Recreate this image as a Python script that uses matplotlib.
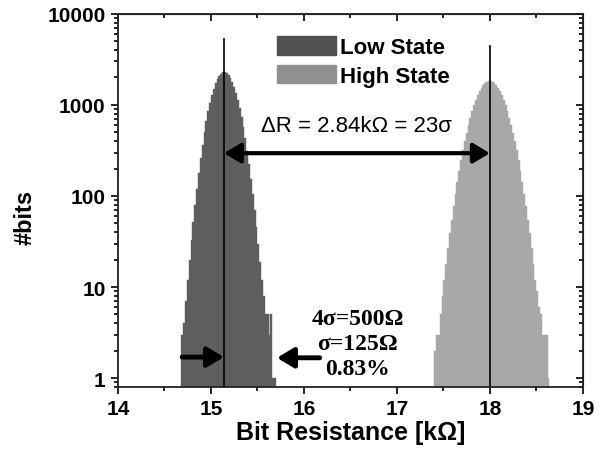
import numpy as np
import matplotlib
matplotlib.use("Agg")
import matplotlib.pyplot as plt
from matplotlib.patches import Patch
from matplotlib import ticker as tick

plt.rcParams['font.family'] = ['Liberation Sans', 'DejaVu Sans']

# histograma estado bajo (bins de 0.02 kOhm)
low_start = 14.68
bin_w = 0.02
low_counts = [3, 4, 7, 12, 20, 33, 52, 80, 120, 180, 260, 365, 500, 660, 850,
              1050, 1270, 1500, 1720, 1920, 2090, 2210, 2290, 2300, 2250, 2140,
              1990, 1800, 1580, 1360, 1140, 930, 740, 570, 430, 315, 225, 155,
              105, 70, 46, 30, 19, 12, 8, 5, 5, 3, 5, 1, 1]

# histograma estado alto
high_start = 17.40
high_counts = [2, 3, 3, 5, 8, 12, 18, 27, 39, 55, 77, 105, 142, 189, 246, 316,
               399, 496, 605, 727, 859, 998, 1140, 1280, 1415, 1538, 1643, 1728,
               1786, 1818, 1818, 1786, 1728, 1643, 1538, 1415, 1280, 1140, 998,
               859, 727, 605, 496, 399, 316, 246, 189, 142, 105, 77, 55, 39, 27,
               18, 12, 9, 6, 5, 3, 3, 3, 1]

low_mean = 15.14
high_mean = 18.0
low_line_top = 5300
high_line_top = 4400
dR_y = 295
xticks = [14, 15, 16, 17, 18, 19]
yticks = [1, 10, 100, 1000, 10000]

low_col = '#5e5e5e'
high_col = '#a8a8a8'

fig = plt.figure(figsize=(5.99, 4.64), dpi=100)
ax = fig.add_axes([0.197, 0.164, 0.776, 0.804])

low_edges = low_start + bin_w * np.arange(len(low_counts) + 1)
high_edges = high_start + bin_w * np.arange(len(high_counts) + 1)
ax.stairs(low_counts, low_edges, fill=True, baseline=0.1, facecolor=low_col,
          edgecolor=low_col, linewidth=0.3)
ax.stairs(high_counts, high_edges, fill=True, baseline=0.1, facecolor=high_col,
          edgecolor=high_col, linewidth=0.3)

ax.set_yscale('log')
ax.set_xlim(14, 19)
ax.set_ylim(0.8, 10000)

# lineas de la media
ax.plot([low_mean, low_mean], [0.8, low_line_top], color='k', lw=1.2)
ax.plot([high_mean, high_mean], [0.8, high_line_top], color='k', lw=1.2)

# flecha delta R
ax.annotate('', xy=(high_mean, dR_y), xytext=(low_mean, dR_y),
            arrowprops=dict(arrowstyle='<|-|>,head_length=0.5,head_width=0.3',
                            lw=3, color='k', mutation_scale=20, shrinkA=0, shrinkB=0))
ax.text(16.57, 590, 'ΔR = 2.84kΩ = 23σ', fontsize=16, ha='center', va='center')

# flechas pequenas
ax.annotate('', xy=(low_mean, 1.7), xytext=(14.69, 1.7),
            arrowprops=dict(arrowstyle='-|>,head_length=0.5,head_width=0.3',
                            lw=3.5, color='k', mutation_scale=20, shrinkA=0, shrinkB=0))
ax.annotate('', xy=(15.71, 1.67), xytext=(16.17, 1.67),
            arrowprops=dict(arrowstyle='-|>,head_length=0.5,head_width=0.3',
                            lw=3.5, color='k', mutation_scale=20, shrinkA=0, shrinkB=0))
ax.text(16.58, 2.37, '4σ=500Ω\nσ=125Ω\n0.83%', fontsize=17, fontweight='bold',
        family=['Liberation Serif', 'DejaVu Serif'], ha='center', va='center',
        linespacing=1.25)

handles = [Patch(facecolor='#505050', edgecolor='#505050', label='Low State'),
           Patch(facecolor='#909090', edgecolor='#909090', label='High State')]
leg = ax.legend(handles=handles, loc='upper left', bbox_to_anchor=(0.342, 0.94),
                frameon=False, borderpad=0, borderaxespad=0, handlelength=2.65,
                handleheight=0.9, handletextpad=0.2, labelspacing=0.3,
                prop={'weight': 'bold', 'size': 16})

# ejes
ax.set_xticks(xticks)
ax.xaxis.set_minor_locator(tick.MultipleLocator(0.5))
ax.set_yticks(yticks)
ax.yaxis.set_major_formatter(tick.FuncFormatter(lambda v, p: '%d' % v))
ax.yaxis.set_minor_locator(tick.LogLocator(base=10, subs=np.arange(2, 10)))
ax.yaxis.set_minor_formatter(tick.NullFormatter())
ax.tick_params(which='both', direction='out', width=1.2, labelsize=15, pad=4)
ax.tick_params(which='major', length=5)
ax.tick_params(which='minor', length=3)
for lab in ax.get_xticklabels() + ax.get_yticklabels():
    lab.set_fontweight('bold')
for s in ax.spines.values():
    s.set_linewidth(1.3)
    s.set_color('#222222')

top = ax.secondary_xaxis('top')
top.set_xticks(xticks)
top.xaxis.set_minor_locator(tick.MultipleLocator(0.5))
top.tick_params(which='both', direction='in', labeltop=False, width=1.2)
top.tick_params(which='major', length=5)
top.tick_params(which='minor', length=3)
right = ax.secondary_yaxis('right')
right.set_yscale('log')
right.set_yticks(yticks)
right.yaxis.set_minor_locator(tick.LogLocator(base=10, subs=np.arange(2, 10)))
right.tick_params(which='both', direction='in', labelright=False, width=1.2)
right.tick_params(which='major', length=5)
right.tick_params(which='minor', length=3)

ax.set_xlabel('Bit Resistance [kΩ]', fontsize=18, fontweight='bold')
ax.set_ylabel('#bits', fontsize=17, fontweight='bold')
ax.xaxis.set_label_coords(0.5, -0.09)
ax.yaxis.set_label_coords(-0.2, 0.458)
ax.xaxis.label.set_va('top')
ax.yaxis.label.set_va('center')

fig.savefig('out.png', dpi=100)
